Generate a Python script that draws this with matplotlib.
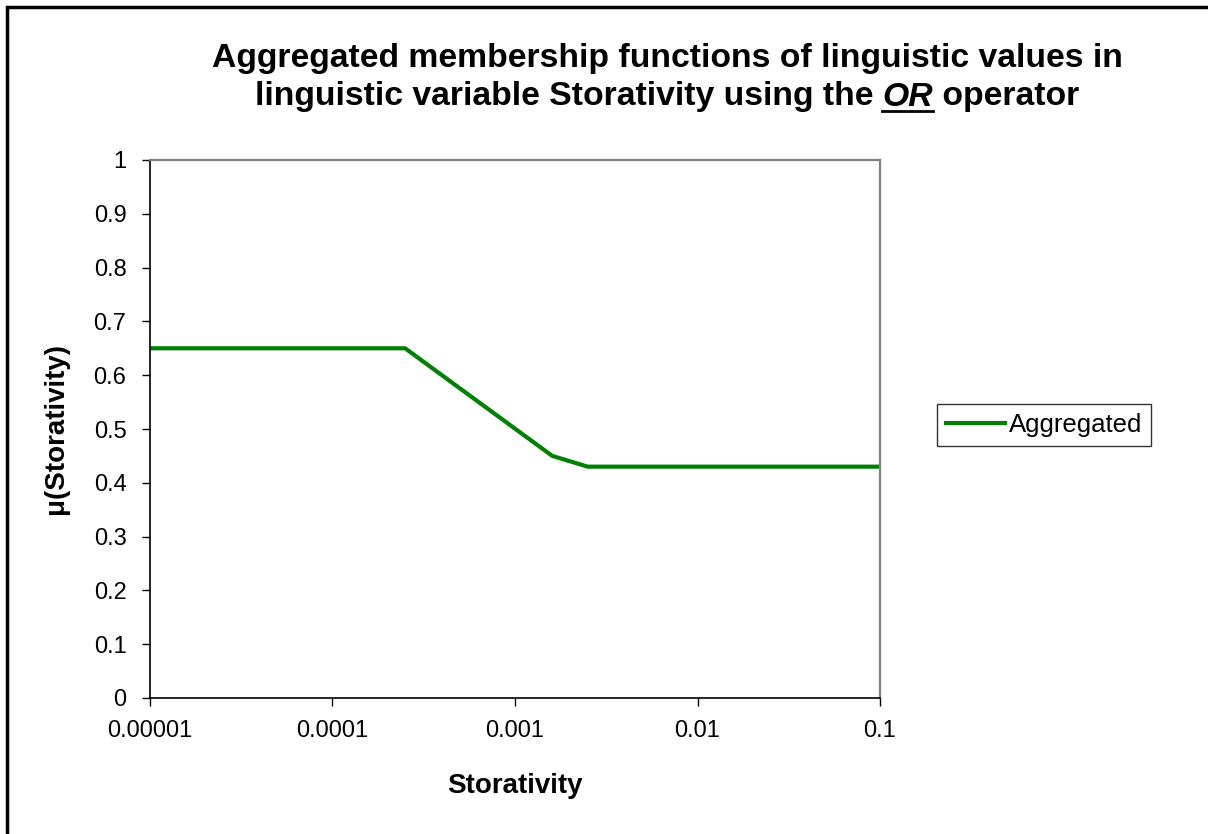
import numpy as np
import matplotlib
matplotlib.use("Agg")
import matplotlib.pyplot as plt
from matplotlib.patches import Rectangle
from matplotlib.lines import Line2D

plt.rcParams['font.family'] = ['Liberation Sans', 'DejaVu Sans']

# data
storativity = [0.00001, 0.00025, 0.0016, 0.0025, 0.1]
membership = [0.65, 0.65, 0.45, 0.43, 0.43]
xtick_vals = [0.00001, 0.0001, 0.001, 0.01, 0.1]
xtick_labels = ["0.00001", "0.0001", "0.001", "0.01", "0.1"]
ytick_vals = [0, 0.1, 0.2, 0.3, 0.4, 0.5, 0.6, 0.7, 0.8, 0.9, 1]
ytick_labels = ["0", "0.1", "0.2", "0.3", "0.4", "0.5", "0.6", "0.7", "0.8", "0.9", "1"]

W, H = 1208, 834
fig = plt.figure(figsize=(W / 100, H / 100), dpi=100)
ax = fig.add_axes([150 / W, 1 - 698 / H, 730 / W, 538 / H])

ax.plot(storativity, membership, color="#008000", lw=3, label="Aggregated")
ax.set_xscale("log")
ax.set_xlim(1e-5, 0.1)
ax.set_ylim(0, 1)
ax.set_xticks(xtick_vals)
ax.set_xticklabels(xtick_labels)
ax.xaxis.set_minor_locator(matplotlib.ticker.NullLocator())
ax.set_yticks(ytick_vals)
ax.set_yticklabels(ytick_labels)
ax.tick_params(axis="both", direction="out", length=6, width=1, labelsize=17)
ax.tick_params(axis="x", pad=10)
ax.tick_params(axis="y", pad=11)

for s in ["left", "bottom"]:
    ax.spines[s].set_color("black")
    ax.spines[s].set_linewidth(1.2)
for s in ["top", "right"]:
    ax.spines[s].set_color("#808080")
    ax.spines[s].set_linewidth(1.6)

ax.set_xlabel("Storativity", fontsize=20, fontweight="bold", labelpad=22)
ax.set_ylabel("μ(Storativity)", fontsize=20, fontweight="bold", labelpad=18)

leg = ax.legend(loc="center left", bbox_to_anchor=(937 / W, 1 - 425 / H),
                bbox_transform=fig.transFigure, fontsize=18.5, frameon=True,
                fancybox=False, edgecolor="black", handlelength=2.3,
                handletextpad=0.15, borderpad=0.35, borderaxespad=0)
leg.get_frame().set_linewidth(1.0)

# title, two lines, with bold italic underlined "OR"
cx = 667 / W
fig.text(cx, 1 - 58 / H, "Aggregated membership functions of linguistic values in",
         ha="center", va="center", fontsize=24.3, fontweight="bold")

y2 = 1 - 97 / H
parts = [("linguistic variable Storativity using the ", "normal"),
         ("OR", "italic"),
         (" operator", "normal")]
texts = [fig.text(0, y2, p, ha="left", va="center", fontsize=24.3,
                  fontweight="bold", style=st) for p, st in parts]
fig.canvas.draw()
r = fig.canvas.get_renderer()
widths = [t.get_window_extent(r).width / W for t in texts]
x = cx - sum(widths) / 2
for t, w in zip(texts, widths):
    t.set_x(x)
    x += w
ext = texts[1].get_window_extent(r)
uy = (ext.y0 + 2) / H
fig.add_artist(Line2D([ext.x0 / W, ext.x1 / W], [uy, uy], color="black", lw=2,
                      transform=fig.transFigure))

# outer border of the chart area
fig.add_artist(Rectangle((7.5 / W, -0.05), 1.2, 1 - 6.5 / H + 0.05,
                         transform=fig.transFigure, fill=False,
                         edgecolor="black", lw=2.5))

fig.savefig("out.png", dpi=100)
